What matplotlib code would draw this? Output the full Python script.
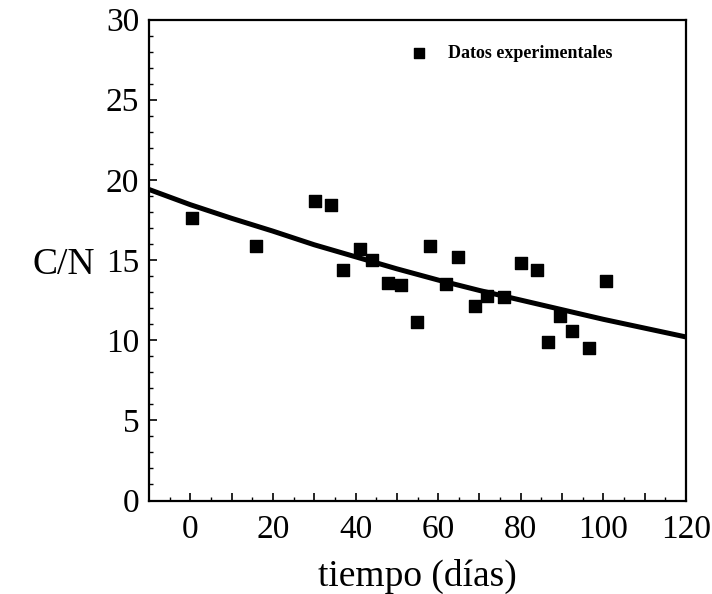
import numpy as np
from matplotlib import pyplot as plt
from matplotlib.ticker import MultipleLocator

plt.rcParams['font.family'] = ['Liberation Serif', 'DejaVu Serif']

dias = [0.4, 15.8, 30.1, 34.1, 37.0, 41.0, 44.1, 47.9, 51.0, 54.9, 58.1, 61.9,
        64.8, 68.8, 71.9, 75.9, 80.0, 83.9, 86.5, 89.5, 92.4, 96.6, 100.6]
cn = [17.64, 15.86, 18.66, 18.45, 14.38, 15.69, 15.02, 13.55, 13.42, 11.14, 15.88, 13.49,
      15.21, 12.15, 12.74, 12.69, 14.82, 14.38, 9.91, 11.53, 10.59, 9.51, 13.69]

# fitted curve, read at regular positions
curva_x = [-10, 0, 10, 20, 30, 40, 50, 60, 70, 80, 90, 100, 110, 120]
curva_y = [19.4, 18.45, 17.6, 16.8, 15.95, 15.2, 14.45, 13.75, 13.1, 12.5, 11.9, 11.3, 10.75, 10.2]

fig = plt.figure(figsize=(7.12, 5.94), dpi=100)
ax = fig.add_axes([149/712, 1 - 500.5/594, (686-149)/712, (500.5-19.5)/594])

ax.plot(curva_x, curva_y, color='black', linewidth=3.6, zorder=2)
ax.scatter(dias, cn, marker='s', s=70, color='black', zorder=3, label='Datos experimentales')

ax.set_xlim(-10, 120)
ax.set_ylim(0, 30)
ax.xaxis.set_minor_locator(MultipleLocator(5))
ax.yaxis.set_major_locator(MultipleLocator(5))
ax.yaxis.set_minor_locator(MultipleLocator(1))
ax.set_xticks(range(-10, 121, 10))
ax.set_xticklabels(['' if v % 20 else str(v) for v in range(-10, 121, 10)])
ax.tick_params(which='both', direction='in', top=False, right=False)
ax.tick_params(which='major', length=6, width=1.2, labelsize=24, pad=10)
ax.tick_params(which='minor', length=3, width=1)
ax.tick_params(axis='y', pad=7)
for s in ax.spines.values():
    s.set_linewidth(1.6)

ax.set_xlabel('tiempo (días)', fontsize=27, labelpad=10)
ax.set_ylabel('C/N', fontsize=27, rotation=0, ha='center', va='center')
ax.yaxis.set_label_coords(-0.158, 0.49)

ax.legend(loc='upper right', frameon=False, markerscale=0.9,
          handletextpad=0.6, borderaxespad=1.0, bbox_to_anchor=(0.91, 1.0),
          prop={'weight': 'bold', 'size': 13})

fig.savefig('out.png', dpi=100)
